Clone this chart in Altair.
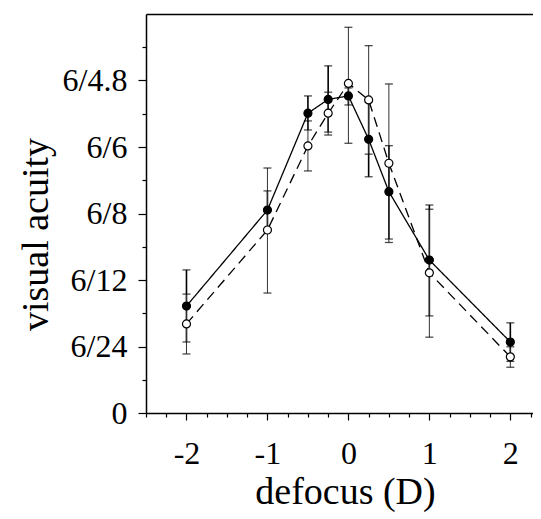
import altair as alt
import pandas as pd

# ---- data (decimal acuity: 6/24=0.25 ... 6/4.8=1.25) ----
defocus = [-2, -1, -0.5, -0.25, 0, 0.25, 0.5, 1, 2]

filled_mean = [0.402, 0.763, 1.127, 1.179, 1.192, 1.029, 0.832, 0.575, 0.267]
filled_hi   = [0.538, 0.835, 1.192, 1.305, 1.222, 1.169, 1.005, 0.782, 0.339]
filled_lo   = [0.267, 0.692, 1.064, 1.056, 1.158, 0.888, 0.654, 0.365, 0.194]

open_mean = [0.335, 0.688, 1.004, 1.127, 1.239, 1.177, 0.939, 0.527, 0.211]
open_hi   = [0.447, 0.921, 1.098, 1.206, 1.450, 1.381, 1.237, 0.766, 0.249]
open_lo   = [0.222, 0.451, 0.910, 1.045, 1.014, 0.973, 0.641, 0.285, 0.172]

series_names = ["filled", "open"]

y_major_values = [0, 0.25, 0.5, 0.75, 1.0, 1.25]
y_major_labels = ["0", "6/24", "6/12", "6/8", "6/6", "6/4.8"]
y_tick_values = [i * 0.125 for i in range(12)]
x_tick_values = [-2.5 + 0.25 * i for i in range(20)]

rows = []
for i, d in enumerate(defocus):
    rows.append(dict(defocus=d, series="filled", mean=filled_mean[i], lo=filled_lo[i], hi=filled_hi[i]))
for i, d in enumerate(defocus):
    rows.append(dict(defocus=d, series="open", mean=open_mean[i], lo=open_lo[i], hi=open_hi[i]))
df = pd.DataFrame(rows)

FONT = "Liberation Serif"

# label expressions
y_expr = ""
for v, lab in zip(y_major_values, y_major_labels):
    y_expr += f"datum.value == {v} ? '{lab}' : "
y_expr += "''"
x_expr = "datum.value % 1 == 0 ? '' + datum.value : ''"

x_scale = alt.Scale(domain=[-2.5, 2.28], nice=False, zero=False)
y_scale = alt.Scale(domain=[0, 1.5], nice=False, zero=False)

y_axis = alt.Axis(
    values=y_tick_values,
    labelExpr=y_expr,
    labelOverlap=False,
    tickSize={"condition": {"test": "datum.value * 4 % 1 != 0", "value": 4}, "value": 8},
    labelPadding=11,
    labelFontSize=32,
    labelBaseline="middle",
    title="visual acuity",
    titleFontSize=38,
    titleBaseline="alphabetic",
    titleX=-99,
    titleY=220,
    titleAngle=270,
    titleAlign="center",
    grid=False,
    domainWidth=1.5,
)

x_axis_main = alt.Axis(
    orient="bottom",
    values=x_tick_values,
    labelExpr=x_expr,
    labelOverlap=False,
    tickSize={"condition": {"test": "datum.value % 1 != 0", "value": 4}, "value": 7},
    labelPadding=43,
    labelBaseline="alphabetic",
    labelFontSize=32,
    title="defocus (D)",
    titleFontSize=38,
    titleBaseline="alphabetic",
    titleX=199,
    titleY=90,
    titleAlign="center",
    grid=False,
    domainWidth=1.5,
)

x_axis_top = alt.Axis(
    orient="top", labels=False, ticks=False, title=None, grid=False, domainWidth=1.5
)

base = alt.Chart(df)

err = base.mark_rule().encode(
    x=alt.X("defocus:Q", scale=x_scale, axis=None),
    y=alt.Y("lo:Q", scale=y_scale, axis=y_axis),
    y2="hi:Q",
    strokeWidth=alt.StrokeWidth("series:N", scale=alt.Scale(domain=series_names, range=[1.6, 1.0]), legend=None),
    color=alt.Color("series:N", scale=alt.Scale(domain=series_names, range=["#000000", "#333333"]), legend=None),
)

cap_lo = base.mark_tick(orient="horizontal", size=8, thickness=1.3, color="black").encode(
    x=alt.X("defocus:Q", scale=x_scale, axis=None),
    y=alt.Y("lo:Q", scale=y_scale, axis=y_axis),
)
cap_hi = base.mark_tick(orient="horizontal", size=8, thickness=1.3, color="black").encode(
    x=alt.X("defocus:Q", scale=x_scale, axis=None),
    y=alt.Y("hi:Q", scale=y_scale, axis=y_axis),
)

lines = base.mark_line(color="black", strokeWidth=1.3).encode(
    x=alt.X("defocus:Q", scale=x_scale, axis=x_axis_main),
    y=alt.Y("mean:Q", scale=y_scale, axis=y_axis),
    detail="series:N",
    strokeDash=alt.StrokeDash("series:N", scale=alt.Scale(domain=series_names, range=[[1, 0], [10, 6]]), legend=None),
)

points = base.mark_point(shape="circle", size=64, stroke="black", strokeWidth=1.2, opacity=1).encode(
    x=alt.X("defocus:Q", scale=x_scale, axis=x_axis_top),
    y=alt.Y("mean:Q", scale=y_scale, axis=y_axis),
    fill=alt.Fill("series:N", scale=alt.Scale(domain=series_names, range=["#000000", "#ffffff"]), legend=None),
)

chart = (
    alt.layer(err, cap_lo, cap_hi, lines, points)
    .resolve_axis(x="independent")
    .properties(
        width=387,
        height=399,
        autosize=alt.AutoSizeParams(type="none"),
        padding={"left": 138, "top": 6, "right": 0, "bottom": 100},
    )
    .configure_view(stroke=None)
    .configure_axis(
        domainColor="black",
        tickColor="black",
        labelColor="black",
        titleColor="black",
        labelFont=FONT,
        titleFont=FONT,
        titleFontWeight="normal",
        tickWidth=1.2,
    )
)

chart.save("out.html", embed_options={"renderer": "svg", "actions": False})
